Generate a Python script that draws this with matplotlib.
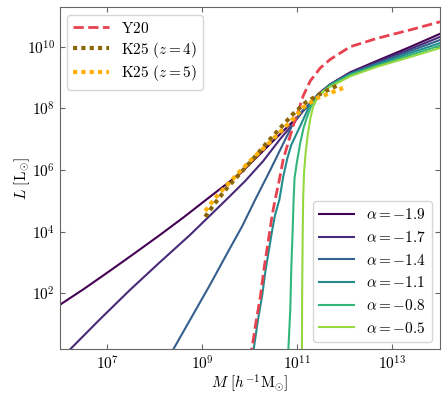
import numpy as np
import matplotlib
matplotlib.use("Agg")
import matplotlib.pyplot as plt
from matplotlib.ticker import FixedLocator, NullLocator, LogFormatterSciNotation

plt.rcParams['font.family'] = 'serif'
plt.rcParams['font.serif'] = ['cmr10', 'DejaVu Serif']
plt.rcParams['mathtext.fontset'] = 'cm'
plt.rcParams['axes.formatter.use_mathtext'] = True
plt.rcParams['font.size'] = 11

# data (log10 M, log10 L)
alphas = [-1.9, -1.7, -1.4, -1.1, -0.8, -0.5]

logM_a19 = [6.00, 6.51, 7.04, 7.56, 8.09, 8.62, 9.16, 9.80, 10.26, 10.64, 11.00, 11.27, 11.44, 11.69, 12.11, 12.67, 13.38, 14.0]
logL_a19 = [1.62, 2.14, 2.71, 3.28, 3.87, 4.48, 5.13, 5.89, 6.59, 7.17, 7.72, 8.16, 8.47, 8.78, 9.17, 9.54, 10.00, 10.42]

logM_a17 = [6.00, 6.22, 6.85, 7.48, 8.11, 8.74, 9.48, 9.90, 10.28, 10.64, 10.91, 11.12, 11.27, 11.44, 11.69, 12.11, 12.67, 13.38, 14.0]
logL_a17 = [-0.15, 0.18, 1.16, 2.11, 3.01, 3.89, 5.00, 5.64, 6.29, 7.01, 7.50, 7.92, 8.16, 8.45, 8.78, 9.15, 9.50, 9.93, 10.32]

logM_a14 = [8.22, 8.39, 8.74, 9.16, 9.56, 9.84, 10.11, 10.43, 10.70, 10.91, 11.08, 11.27, 11.44, 11.69, 12.11, 12.67, 13.38, 14.0]
logL_a14 = [-0.30, 0.18, 1.13, 2.27, 3.40, 4.18, 5.03, 6.00, 6.85, 7.50, 7.88, 8.16, 8.44, 8.77, 9.13, 9.46, 9.87, 10.22]

logM_a11 = [10.06, 10.08, 10.17, 10.26, 10.33, 10.40, 10.47, 10.53, 10.62, 10.70, 10.79, 10.87, 11.06, 11.27, 11.44, 11.69, 12.11, 12.67, 13.38, 14.0]
logL_a11 = [-0.10, 0.18, 1.13, 1.94, 2.75, 3.40, 4.05, 4.54, 5.03, 5.77, 6.39, 6.81, 7.43, 8.14, 8.43, 8.76, 9.11, 9.42, 9.80, 10.12]

logM_a08 = [10.80, 10.81, 10.85, 10.87, 10.90, 10.92, 10.94, 10.99, 11.06, 11.13, 11.21, 11.29, 11.37, 11.48, 11.69, 12.11, 12.67, 13.38, 14.0]
logL_a08 = [-0.20, 0.18, 1.46, 2.75, 4.05, 5.03, 5.74, 6.26, 6.88, 7.37, 7.75, 8.08, 8.31, 8.47, 8.75, 9.09, 9.38, 9.73, 10.04]

logM_a05 = [11.09, 11.095, 11.10, 11.11, 11.12, 11.14, 11.175, 11.22, 11.27, 11.33, 11.42, 11.52, 11.69, 11.90, 12.11, 12.67, 13.38, 14.0]
logL_a05 = [-0.50, 0.18, 2.11, 3.73, 5.03, 5.94, 6.59, 7.17, 7.66, 8.05, 8.34, 8.53, 8.70, 8.87, 9.04, 9.35, 9.67, 9.96]

logM_y20 = [10.02, 10.04, 10.13, 10.22, 10.30, 10.39, 10.47, 10.53, 10.62, 10.70, 10.81, 10.91, 11.02, 11.12, 11.27, 11.48, 11.69, 12.11, 12.67, 13.38, 14.0]
logL_y20 = [-0.10, 0.18, 1.07, 1.88, 2.82, 3.73, 4.54, 5.03, 5.68, 6.33, 6.91, 7.43, 7.92, 8.40, 8.89, 9.31, 9.59, 10.00, 10.27, 10.55, 10.81]

logM_k25z4 = [9.06, 9.27, 9.52, 9.80, 10.07, 10.34, 10.64, 10.91, 11.19, 11.52, 11.90]
logL_k25z4 = [4.48, 4.93, 5.42, 5.90, 6.36, 6.85, 7.36, 7.82, 8.21, 8.50, 8.79]

logM_k25z5 = [9.06, 9.27, 9.52, 9.80, 10.07, 10.34, 10.64, 10.91, 11.14, 11.42, 11.69, 11.96]
logL_k25z5 = [4.67, 5.09, 5.51, 5.97, 6.39, 6.78, 7.24, 7.66, 8.05, 8.34, 8.50, 8.66]

curves = [(logM_a19, logL_a19), (logM_a17, logL_a17), (logM_a14, logL_a14),
          (logM_a11, logL_a11), (logM_a08, logL_a08), (logM_a05, logL_a05)]

fig = plt.figure(figsize=(4.48, 3.98), dpi=100)
ax = fig.add_axes([0.1333, 0.1224, 0.8489, 0.8600])

cmap = plt.get_cmap('viridis')
alpha_lines = []
for a, (lm, ll) in zip(alphas, curves):
    c = cmap((a + 1.9) / 1.4 * 0.84)
    l, = ax.plot(10**np.array(lm), 10**np.array(ll), color=c, lw=1.5,
                 label=r'$\alpha=%.1f$' % a)
    alpha_lines.append(l)

l_y20, = ax.plot(10**np.array(logM_y20), 10**np.array(logL_y20), color='#e8414f',
                 lw=2, ls='--', label=r'$\mathrm{Y20}$')
l_z4, = ax.plot(10**np.array(logM_k25z4), 10**np.array(logL_k25z4), color='#8b6508',
                lw=3, ls=(0, (1, 1)), label=r'$\mathrm{K25}\ (z=4)$')
l_z5, = ax.plot(10**np.array(logM_k25z5), 10**np.array(logL_k25z5), color='#ffb000',
                lw=3, ls=(0, (1, 1)), label=r'$\mathrm{K25}\ (z=5)$')

ax.set_xscale('log')
ax.set_yscale('log')
ax.set_xlim(1e6, 1e14)
ax.set_ylim(10**0.18, 10**11.29)

ax.xaxis.set_major_locator(FixedLocator([1e7, 1e9, 1e11, 1e13]))
ax.yaxis.set_major_locator(FixedLocator([1e2, 1e4, 1e6, 1e8, 1e10]))
ax.xaxis.set_major_formatter(LogFormatterSciNotation())
ax.yaxis.set_major_formatter(LogFormatterSciNotation())
ax.xaxis.set_minor_locator(NullLocator())
ax.yaxis.set_minor_locator(NullLocator())
ax.tick_params(direction='in', top=True, right=True, color='0.4')
for s in ax.spines.values():
    s.set_color('0.4')

ax.set_xlabel(r'$M\ [h^{-1}\mathrm{M}_{\odot}]$', labelpad=0)
ax.set_ylabel(r'$L\ [\mathrm{L}_{\odot}]$', labelpad=-4)

leg1 = ax.legend(handles=[l_y20, l_z4, l_z5], loc='upper left', handlelength=2.3,
                 labelspacing=0.25)
ax.add_artist(leg1)
ax.legend(handles=alpha_lines, loc='lower right', handlelength=2.3)

fig.savefig('out.png', dpi=100)
